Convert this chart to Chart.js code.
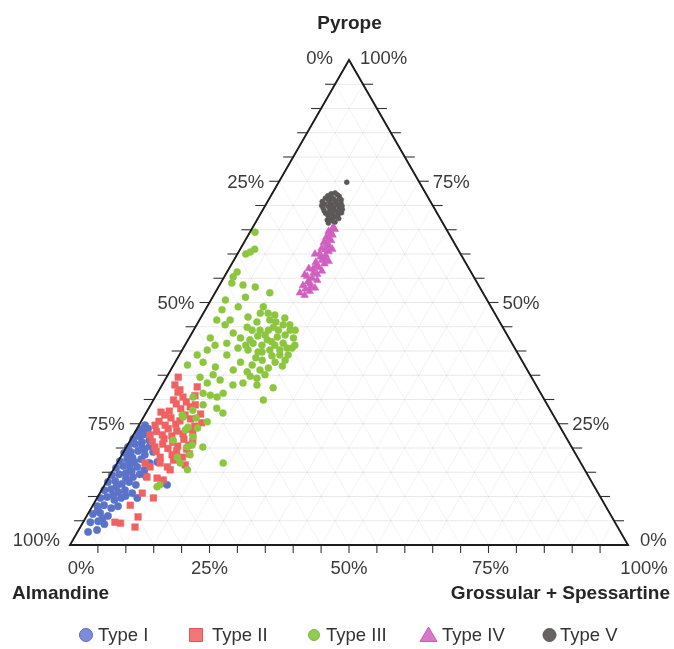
<!DOCTYPE html>
<html>
<head>
<meta charset="utf-8">
<script src="https://cdn.jsdelivr.net/npm/chart.js@4.4.0/dist/chart.umd.min.js"></script>
<style>
html,body{margin:0;padding:0;background:#fff;}
#wrap{position:relative;width:674px;height:649px;}
</style>
</head>
<body>
<div id="wrap"><canvas id="c"></canvas></div>
<script>
// ---- labels ----
const vertexTitles = ['Pyrope', 'Almandine', 'Grossular + Spessartine'];
const seriesNames = ['Type I', 'Type II', 'Type III', 'Type IV', 'Type V'];
const leftTickLabels = ['0%', '25%', '50%', '75%', '100%'];    // apex -> Almandine corner
const rightTickLabels = ['100%', '75%', '50%', '25%', '0%'];   // apex -> Grs+Sps corner
const bottomTickLabels = ['0%', '25%', '50%', '75%', '100%'];  // Almandine -> Grs+Sps

// ---- data: [Pyrope %, Grossular+Spessartine %]; Almandine = 100 - both ----
const typeI = [
[24.7,1.1],[23.9,0.8],[23.1,0.7],[23.3,2.2],[21.9,0.4],[22.3,1.4],[21.6,3.4],[20.2,0.3],[20.8,1.3],[20.0,2.9],
[20.4,4.1],[19.0,0.2],[19.2,1.3],[19.4,2.5],[18.6,4.1],[17.3,0.3],[17.7,1.4],[17.1,3.0],[17.7,3.9],[16.9,5.8],
[15.9,0.3],[16.3,1.4],[15.7,2.9],[16.1,4.0],[15.5,5.6],[14.4,0.3],[14.6,1.5],[14.8,2.6],[14.0,4.3],[14.6,5.2],
[13.0,0.3],[13.2,1.5],[12.6,3.0],[13.0,4.1],[12.4,5.6],[11.3,0.5],[11.5,1.6],[10.9,3.2],[11.3,4.2],[10.7,5.8],
[9.7,0.6],[9.9,1.7],[9.3,3.3],[9.7,4.3],[9.7,7.2],[8.0,0.9],[8.2,2.0],[7.6,3.6],[8.0,4.6],[6.4,0.9],
[6.6,2.1],[6.0,3.8],[4.7,1.3],[4.9,2.6],[4.3,4.0],[2.7,1.9],[3.1,3.3],[12.8,10.3],[12.4,11.2],[17.1,7.1],
[18.4,1.6],[13.8,3.1],[10.3,2.6],[14.2,6.5],[19.2,5.3],[22.8,1.8],[21.2,2.3],[18.0,2.2],[16.7,2.4],[15.1,3.5],
[12.0,2.3],[10.1,4.9],[7.2,1.4],[5.5,3.1],[21.0,0.9],[24.0,2.0],[19.8,3.5]
];
const typeII = [
[34.6,2.1],[32.0,3.7],[32.6,6.5],[29.9,3.6],[30.5,5.0],[27.6,4.0],[28.1,5.8],[28.5,7.3],[25.5,3.2],[26.2,5.0],
[25.6,6.9],[26.0,8.6],[23.4,3.8],[24.0,5.6],[23.5,7.4],[23.9,9.2],[23.2,10.4],[21.3,4.1],[21.9,5.9],[21.2,7.8],
[21.8,9.5],[21.4,11.3],[19.3,5.8],[19.9,7.6],[19.4,9.4],[19.8,11.0],[18.1,7.1],[17.5,9.8],[16.1,9.4],[16.1,6.3],
[13.8,8.7],[14.0,6.8],[10.7,7.6],[9.7,10.1],[5.8,9.3],[4.5,6.8],[3.7,9.8],[33.0,2.3],[26.8,7.2],[24.7,4.7],
[24.9,6.5],[24.5,10.1],[22.7,5.2],[22.5,7.0],[22.9,8.8],[20.6,11.0],[20.4,9.1],[20.8,6.2],[18.6,9.0],[18.1,11.1],
[16.9,7.7],[31.5,3.6],[29.5,6.1],[29.1,4.5],[26.8,3.6],[24.7,2.9],[22.7,3.0],[18.8,12.0],[20.2,5.1],[15.5,10.2],
[16.9,5.0],[13.4,10.0],[16.5,12.4],[8.2,6.7],[4.7,5.7],[28.9,8.0],[27.0,9.9],[30.8,7.0],[27.4,2.6],[25.2,11.0]
];
const typeIII = [
[64.5,0.9],[60.4,2.1],[60.0,1.5],[61.0,2.6],[56.3,1.8],[55.3,1.6],[54.0,2.0],[53.6,4.2],[53.2,6.6],[52.0,9.8],
[50.5,2.6],[51.1,5.9],[49.1,10.1],[46.4,3.1],[46.4,5.5],[47.0,8.4],[47.8,10.2],[47.8,11.6],[44.9,9.3],[44.3,11.9],
[44.9,14.0],[45.4,15.5],[44.3,17.3],[42.7,3.8],[41.6,7.3],[42.7,9.2],[41.6,12.0],[42.3,14.2],[42.9,15.7],[41.6,17.4],
[46.0,10.5],[43.3,13.3],[41.2,16.1],[40.6,18.6],[42.7,18.7],[40.2,15.7],[39.8,13.8],[39.2,18.0],[40.2,11.8],[38.1,15.4],
[37.7,17.9],[38.1,19.5],[37.1,14.1],[36.5,17.3],[37.7,11.7],[41.2,5.4],[43.7,7.4],[39.2,3.2],[40.2,4.5],[39.2,8.5],
[36.1,11.2],[35.7,13.9],[34.4,16.3],[37.1,2.5],[37.7,5.0],[34.6,6.0],[35.1,8.1],[33.4,7.9],[34.0,9.9],[33.4,14.3],
[33.0,17.0],[32.4,20.2],[30.5,6.8],[31.3,8.2],[30.5,11.1],[31.3,11.8],[33.0,12.7],[27.8,8.1],[28.9,9.4],[28.2,12.2],
[27.2,13.8],[29.9,19.7],[25.4,11.9],[24.1,10.8],[26.4,7.1],[22.3,10.9],[20.2,10.9],[20.2,13.7],[16.9,19.0],[16.9,11.3],
[15.5,13.3],[18.1,10.2],[21.6,7.7],[18.6,12.2],[23.7,8.8],[26.2,9.5],[30.9,9.7],[36.7,7.7],[45.4,5.1],[49.1,5.6],
[48.5,3.0],[12.0,9.6],[44.3,15.2],[41.2,13.8],[43.3,16.9],[44.3,10.5],[46.4,12.6],[40.6,19.5],[35.1,17.4],[26.8,6.7],
[24.3,9.0],[20.6,11.6],[12.4,9.9],[42.3,11.1],[43.1,12.1],[41.9,15.2],[40.2,17.5],[39.2,19.5],[41.2,19.7],[45.4,16.7],
[46.8,15.1],[46.0,13.9],[44.3,13.4],[38.6,14.0],[41.2,10.9],[39.8,14.5],[39.0,16.7],[36.9,19.6],[36.1,16.0],[34.8,14.9],
[40.6,9.8],[44.3,18.2],[47.4,13.0]
];
const typeIV = [
[51.5,16.3],[52.0,15.2],[52.3,16.8],[52.8,15.8],[53.2,16.5],[53.5,15.0],[53.9,16.1],[54.3,15.5],[54.6,17.0],[55.0,15.9],
[55.4,14.8],[55.8,16.4],[56.1,15.6],[56.5,16.9],[56.9,15.1],[57.2,16.0],[57.6,15.4],[58.0,16.6],[58.3,14.9],[58.7,15.8],
[59.0,16.3],[59.4,15.2],[59.8,15.9],[60.1,14.7],[60.5,16.1],[60.9,15.3],[61.2,14.5],[61.6,15.7],[62.0,15.0],[62.4,14.3],
[62.8,15.4],[63.1,14.8],[63.5,14.2],[63.9,15.1],[64.3,14.6],[64.7,14.0],[65.1,14.9],[65.5,14.4],[53.0,17.4],[55.7,14.2],
[58.5,17.1],[61.0,16.5],[60.0,13.9],[57.0,14.3]
];
const typeV = [
[72.6,11.2],[72.4,10.6],[72.2,11.8],[72.0,10.2],[71.9,12.3],[71.7,11.0],[71.5,10.0],[71.4,11.5],[71.3,12.6],[71.1,10.8],
[71.0,12.0],[71.2,13.0],[70.8,9.8],[70.7,11.2],[70.6,12.4],[70.5,13.3],[70.3,10.5],[70.2,11.8],[70.1,12.9],[70.0,10.1],
[69.9,13.8],[69.8,11.4],[69.6,12.5],[69.5,10.6],[69.4,13.6],[69.3,11.9],[69.2,14.2],[69.0,12.8],[68.9,11.1],[68.8,13.4],
[68.6,12.2],[68.5,14.4],[68.4,11.6],[68.2,13.0],[68.0,14.0],[67.9,12.3],[67.7,13.6],[67.5,12.8],[67.3,14.5],[67.2,13.2],
[67.0,12.6],[66.8,13.7],[66.6,14.2],[66.4,13.1],[74.8,12.2]
];

const seriesData = [typeI, typeII, typeIII, typeIV, typeV];
const seriesColors = ['#5b72c9', '#f06262', '#8cc63f', '#d15fc0', '#5d5858'];
const legendFill = ['#7b8dd8', '#f27878', '#8ccc4e', '#d878c8', '#6a6363'];
const legendStroke = ['#5a6bc0', '#e05555', '#7cb842', '#c45db4', '#5a5454'];
const seriesStyles = ['circle', 'rect', 'circle', 'triangle', 'circle'];
const seriesRadius = [3.7, 4.7, 3.5, 4.5, 2.5];

// ternary -> cartesian (data units, the chart scales map them to pixels)
function toXY(p) { return { x: p[1] + p[0] / 2, y: p[0] }; }

const FONT = '"Liberation Sans", Arial, Helvetica, sans-serif';

const ternaryPlugin = {
  id: 'ternary',
  beforeDatasetsDraw(chart) {
    const { ctx, scales: { x, y } } = chart;
    const P = (py, grs) => [x.getPixelForValue(grs + py / 2), y.getPixelForValue(py)];
    const seg = (a, b) => { ctx.beginPath(); ctx.moveTo(a[0], a[1]); ctx.lineTo(b[0], b[1]); ctx.stroke(); };
    ctx.save();
    ctx.lineWidth = 1;
    for (let v = 5; v < 100; v += 5) {
      ctx.strokeStyle = 'rgba(0,0,0,0.05)';
      seg(P(0, v), P(100 - v, v));
      seg(P(0, 100 - v), P(100 - v, 0));
      ctx.strokeStyle = 'rgba(0,0,0,0.085)';
      seg(P(v, 0), P(v, 100 - v));
    }
    ctx.restore();
  },
  afterDatasetsDraw(chart) {
    const { ctx, scales: { x, y } } = chart;
    const P = (py, grs) => [x.getPixelForValue(grs + py / 2), y.getPixelForValue(py)];
    const seg = (a, b) => { ctx.beginPath(); ctx.moveTo(a[0], a[1]); ctx.lineTo(b[0], b[1]); ctx.stroke(); };
    const A = P(100, 0), L = P(0, 0), R = P(0, 100);
    ctx.save();
    // ticks
    ctx.strokeStyle = '#333';
    ctx.lineWidth = 1.1;
    for (let k = 1; k < 20; k++) {
      const v = k * 5;
      const l = P(100 - v, 0); seg(l, [l[0] - 10, l[1]]);
      const r = P(100 - v, v); seg(r, [r[0] + 10, r[1]]);
      const b = P(0, v); seg(b, [b[0], b[1] + 8]);
    }
    // outline
    ctx.strokeStyle = '#1c1c1c';
    ctx.lineWidth = 1.9;
    ctx.lineJoin = 'miter';
    ctx.beginPath();
    ctx.moveTo(A[0], A[1]); ctx.lineTo(L[0], L[1]); ctx.lineTo(R[0], R[1]); ctx.closePath();
    ctx.stroke();

    // tick labels
    ctx.fillStyle = '#3a3a3a';
    ctx.font = '18.5px ' + FONT;
    ctx.textBaseline = 'alphabetic';
    for (let i = 0; i < 5; i++) {
      const t = i / 4;
      const lp = P(100 - 100 * t, 0);
      ctx.textAlign = 'right';
      const lo = i === 0 ? 16 : (i === 4 ? 10 : 15);
      ctx.fillText(leftTickLabels[i], lp[0] - lo, lp[1] + 6.5 - (i === 4 ? 5.5 : 0) - (i === 0 ? 3 : 0));
      const rp = P(100 - 100 * t, 100 * t);
      ctx.textAlign = 'left';
      const ro = i === 0 ? 11 : (i === 4 ? 12 : 14);
      ctx.fillText(rightTickLabels[i], rp[0] + ro, rp[1] + 6.5 - (i === 4 ? 5.5 : 0) - (i === 0 ? 3 : 0));
      const bp = P(0, 100 * t);
      ctx.textAlign = 'center';
      const bo = [11, 0, 0, 2, 16][i];
      ctx.fillText(bottomTickLabels[i], bp[0] + bo, bp[1] + 29);
    }
    // vertex titles
    ctx.fillStyle = '#262626';
    ctx.font = 'bold 19px ' + FONT;
    ctx.textAlign = 'center';
    ctx.fillText(vertexTitles[0], A[0] + 0.5, A[1] - 31.5);
    ctx.textAlign = 'left';
    ctx.fillText(vertexTitles[1], 12, L[1] + 54);
    ctx.textAlign = 'right';
    ctx.fillText(vertexTitles[2], R[0] + 42, R[1] + 54);

    // legend
    const mx = [86, 196, 314, 428.5, 549.5];
    const tx = [98, 212, 326, 442, 560];
    const my = 635, ty = 641;
    ctx.font = '18.5px ' + FONT;
    ctx.textAlign = 'left';
    for (let i = 0; i < 5; i++) {
      ctx.fillStyle = legendFill[i];
      ctx.strokeStyle = legendStroke[i];
      ctx.lineWidth = 1;
      ctx.beginPath();
      if (seriesStyles[i] === 'circle') {
        ctx.arc(mx[i], my, i === 2 ? 5.5 : 6.5, 0, Math.PI * 2);
      } else if (seriesStyles[i] === 'rect') {
        ctx.rect(mx[i] - 6.5, my - 6.5, 13, 13);
      } else {
        ctx.moveTo(mx[i], my - 8);
        ctx.lineTo(mx[i] + 8.5, my + 6.5);
        ctx.lineTo(mx[i] - 8.5, my + 6.5);
        ctx.closePath();
      }
      ctx.fill();
      ctx.stroke();
      ctx.fillStyle = '#333';
      ctx.fillText(seriesNames[i], tx[i], ty);
    }
    ctx.restore();
  }
};

const datasets = seriesData.map((arr, i) => ({
  label: seriesNames[i],
  data: arr.map(toXY),
  pointStyle: seriesStyles[i],
  pointRadius: seriesRadius[i],
  pointBackgroundColor: seriesColors[i],
  pointBorderColor: seriesColors[i],
  pointBorderWidth: 0.5,
  showLine: false,
  order: 5 - i
}));

new Chart(document.getElementById('c'), {
  type: 'scatter',
  data: { datasets },
  options: {
    responsive: true,
    maintainAspectRatio: false,
    animation: false,
    events: [],
    layout: { padding: { left: 70, right: 46, top: 60, bottom: 104 } },
    scales: {
      x: { type: 'linear', min: 0, max: 100, display: false },
      y: { type: 'linear', min: 0, max: 100, display: false }
    },
    plugins: {
      legend: { display: false },
      tooltip: { enabled: false }
    }
  },
  plugins: [ternaryPlugin]
});
</script>
</body>
</html>
